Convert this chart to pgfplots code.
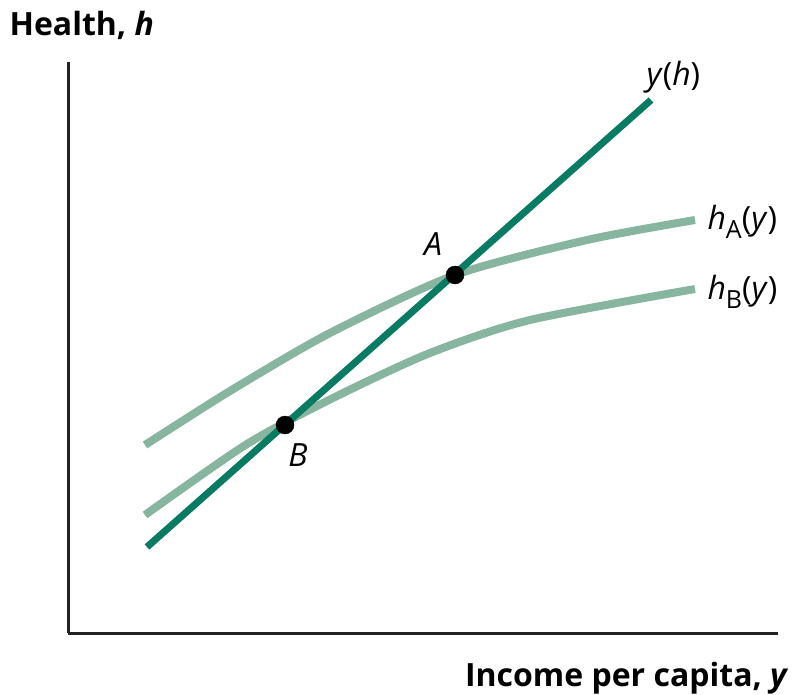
\documentclass[border=0pt]{standalone}
\usepackage{pgfplots}
\pgfplotsset{compat=1.18}
\usepackage{fontspec}
\setmainfont{Open Sans}
\definecolor{darkg}{HTML}{0B7A63}
\definecolor{lightg}{HTML}{87B5A0}
\definecolor{axgray}{HTML}{222222}
\newcommand{\sub}[1]{\raisebox{-0.3em}{\fontsize{25}{27}\selectfont #1}}
\begin{document}
\begin{tikzpicture}[x=1pt,y=1pt]
\path[use as bounding box] (0,0) rectangle (794,694);
\begin{axis}[
  at={(68pt,61pt)}, anchor=south west,
  scale only axis, width=710pt, height=571pt,
  xmin=68, xmax=778, ymin=61, ymax=632,
  axis lines*=left, ticks=none,
  axis line style={line width=3pt, color=axgray},
  clip=false,
]
\addplot[lightg, line width=8pt, smooth, tension=0.45] coordinates {
 (145,249) (230,303) (330,361) (455,419) (587,454) (695,474)};
\addplot[lightg, line width=8pt, smooth, tension=0.45] coordinates {
 (145,179) (247,250) (335,297) (430,341) (530,374) (695,405)};
\addplot[darkg, line width=7pt] coordinates {(147,147) (651,594)};
\addplot[only marks, mark=*, mark size=9pt, black] coordinates {(455,419) (285,269)};
\node[font=\fontsize{32}{36}\selectfont\itshape] at (axis cs:433,450) {A};
\node[font=\fontsize{32}{36}\selectfont\itshape] at (axis cs:298,239) {B};
\node[font=\fontsize{32}{36}\selectfont, anchor=west] at (axis cs:643,617) {\textit{y}(\textit{h})};
\node[font=\fontsize{32}{36}\selectfont, anchor=west] at (axis cs:704,472) {\textit{h}\sub{A}(\textit{y})};
\node[font=\fontsize{32}{36}\selectfont, anchor=west] at (axis cs:704,402) {\textit{h}\sub{B}(\textit{y})};
\end{axis}
\node[font=\fontsize{32}{36}\selectfont\bfseries, anchor=west] at (6,669) {Health, \textit{h}};
\node[font=\fontsize{32}{36}\selectfont\bfseries, anchor=east] at (792,16) {Income per capita, \textit{y}};
\end{tikzpicture}
\end{document}
